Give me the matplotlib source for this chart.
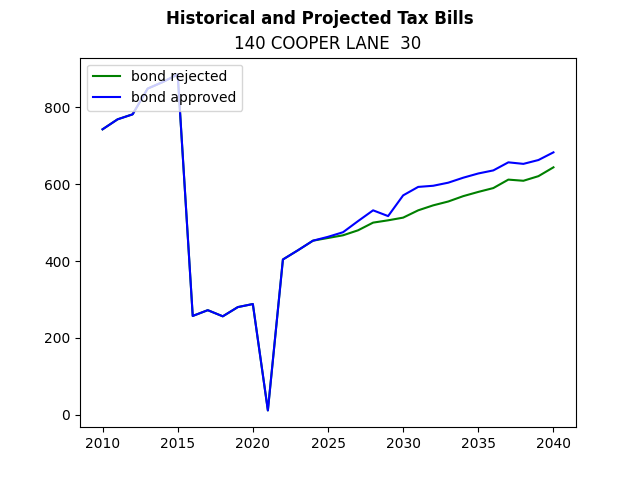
import numpy as np
import matplotlib
matplotlib.use('Agg')
import matplotlib.pyplot as plt

years = list(range(2010, 2041))

# tax bills if the bond is rejected
bond_rejected = [743, 769, 782, 849, 866, 886, 257, 272, 256, 280, 288, 11,
                 404, 428, 453, 460, 467, 480, 500, 506, 513, 532, 545, 555,
                 569, 580, 590, 612, 609, 621, 644]

# tax bills if the bond is approved
bond_approved = [743, 769, 782, 849, 866, 886, 257, 272, 256, 280, 288, 11,
                 404, 428, 453, 463, 475, 504, 532, 517, 571, 593, 596, 604,
                 617, 628, 636, 657, 653, 663, 683]

fig, ax = plt.subplots(figsize=(6.4, 4.8), dpi=100)
fig.suptitle("Historical and Projected Tax Bills", fontweight='bold')
ax.set_title("140 COOPER LANE  30")

ax.plot(years, bond_rejected, color='green', label='bond rejected')
ax.plot(years, bond_approved, color='blue', label='bond approved')
ax.legend(loc='upper left')

plt.savefig('out.png')
